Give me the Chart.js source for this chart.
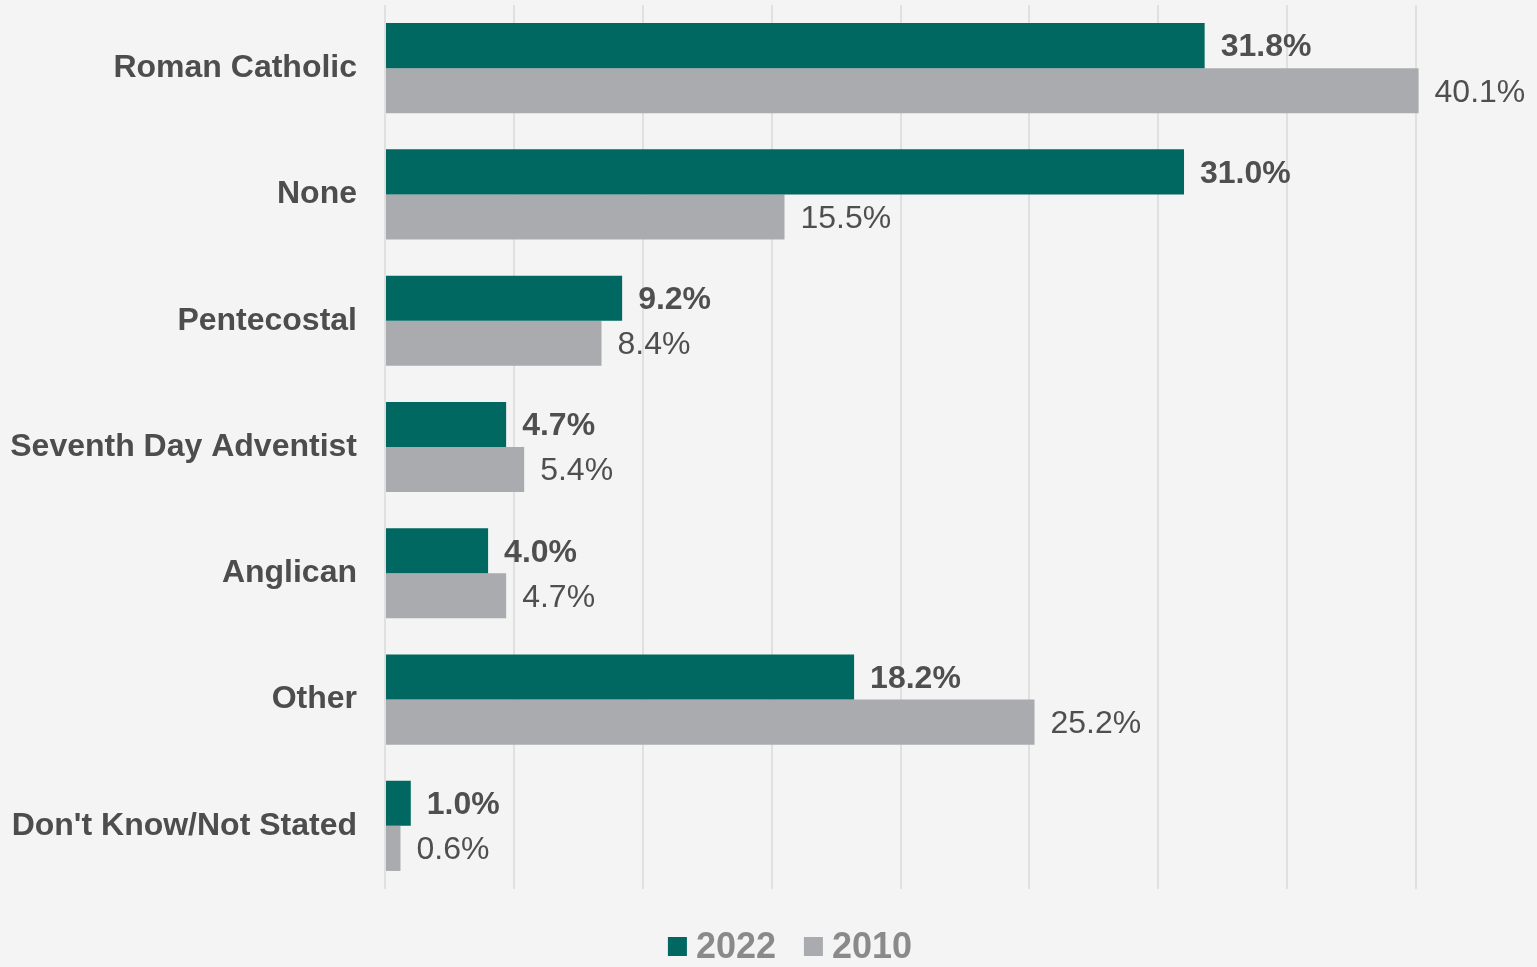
<!DOCTYPE html>
<html>
<head>
<meta charset="utf-8">
<script src="https://cdn.jsdelivr.net/npm/chart.js@4"></script>
<style>
  html, body { margin: 0; padding: 0; background: #f4f4f4; }
  #wrap { position: relative; width: 1537px; height: 967px; }
  #legend {
    position: absolute; left: 790px; top: 946px; transform: translate(-50%, -50%);
    display: flex; align-items: center; white-space: nowrap;
    font-family: "Liberation Sans", Arial, sans-serif; font-weight: bold; font-size: 36px; color: #8a8a8a;
  }
  #legend .item { display: flex; align-items: center; margin-right: 28px; }
  #legend .item:last-child { margin-right: 0; }
  #legend .swatch { width: 19px; height: 19px; margin-right: 9px; }
</style>
</head>
<body>
<div id="wrap">
  <canvas id="religionChart" width="1537" height="967"></canvas>
  <div id="legend"></div>
</div>
<script>
const categories = ['Roman Catholic', 'None', 'Pentecostal', 'Seventh Day Adventist', 'Anglican', 'Other', "Don't Know/Not Stated"];
const values2022 = [31.8, 31.0, 9.2, 4.7, 4.0, 18.2, 1.0];
const values2010 = [40.1, 15.5, 8.4, 5.4, 4.7, 25.2, 0.6];
const seriesLabels = ['2022', '2010'];
const seriesColors = ['#006860', '#a9abaf'];

const FONT = '"Liberation Sans", Arial, sans-serif';

const barLabels = {
  id: 'barLabels',
  afterDatasetsDraw(chart) {
    const ctx = chart.ctx;
    ctx.save();
    ctx.textBaseline = 'middle';
    ctx.textAlign = 'left';
    chart.data.datasets.forEach((ds, i) => {
      const meta = chart.getDatasetMeta(i);
      ctx.font = (i === 0 ? 'bold ' : '') + '32px ' + FONT;
      ctx.fillStyle = '#4f4f4f';
      meta.data.forEach((bar, j) => {
        ctx.fillText(ds.data[j].toFixed(1) + '%', bar.x + 16, bar.y + 2);
      });
    });
    ctx.restore();
  }
};

const chart = new Chart(document.getElementById('religionChart').getContext('2d'), {
  type: 'bar',
  data: {
    labels: categories,
    datasets: seriesLabels.map((lbl, i) => ({
      label: lbl,
      data: i === 0 ? values2022 : values2010,
      backgroundColor: seriesColors[i]
    }))
  },
  options: {
    indexAxis: 'y',
    responsive: false,
    animation: false,
    devicePixelRatio: 1,
    categoryPercentage: 0.714,
    barPercentage: 1,
    layout: { padding: { top: 5, right: 121, left: 0, bottom: 78 } },
    clip: false,
    plugins: {
      legend: { display: false },
      tooltip: { enabled: false }
    },
    scales: {
      x: {
        min: 0,
        max: 40,
        ticks: { stepSize: 5, display: false },
        grid: { color: '#e0e0e0', lineWidth: 2, drawTicks: false },
        border: { display: false },
        afterFit(s) { s.height = 0; }
      },
      y: {
        grid: { display: false },
        border: { display: false },
        ticks: {
          color: '#4d4d4d',
          padding: 20,
          font: { family: FONT, size: 32, weight: 'bold' }
        },
        afterFit(s) {
          s.width = 385;
          s.paddingTop = 0;
          s.paddingBottom = 0;
        }
      }
    }
  },
  plugins: [barLabels]
});

// legend in HTML so it can sit where the original one is
const legendEl = document.getElementById('legend');
seriesLabels.forEach((lbl, i) => {
  const item = document.createElement('div');
  item.className = 'item';
  const sw = document.createElement('span');
  sw.className = 'swatch';
  sw.style.background = seriesColors[i];
  item.appendChild(sw);
  item.appendChild(document.createTextNode(lbl));
  legendEl.appendChild(item);
});
</script>
</body>
</html>
